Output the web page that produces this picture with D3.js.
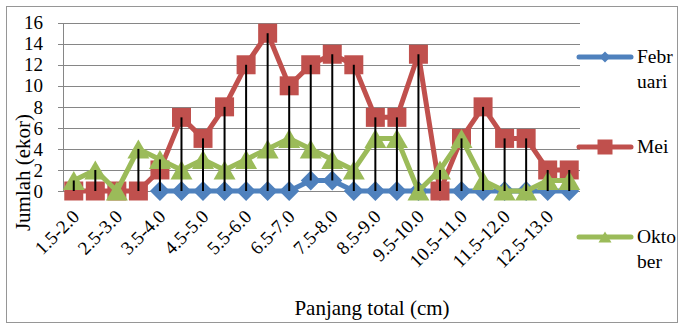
<!DOCTYPE html>
<html><head><meta charset="utf-8"><script src="https://cdn.jsdelivr.net/npm/d3@7"></script></head>
<body style="margin:0">
<svg id="chart" width="678" height="324"></svg>
<script>
// ---- data ----
const categories = ["1.5-2.0","2.0-2.5","2.5-3.0","3.0-3.5","3.5-4.0","4.0-4.5","4.5-5.0","5.0-5.5",
  "5.5-6.0","6.0-6.5","6.5-7.0","7.0-7.5","7.5-8.0","8.0-8.5","8.5-9.0","9.0-9.5","9.5-10.0",
  "10.0-10.5","10.5-11.0","11.0-11.5","11.5-12.0","12.0-12.5","12.5-13.0","13.0-13.5"];
const februari = [null,null,null,null,0,0,0,0,0,0,0,1,1,0,0,0,0,0,0,0,0,0,0,0];
const mei      = [0,0,0,0,2,7,5,8,12,15,10,12,13,12,7,7,13,0,5,8,5,5,2,2];
const oktober  = [1,2,0,4,3,2,3,2,3,4,5,4,3,2,5,5,0,2,5,1,0,0,1,1];
const yTicks = [0,2,4,6,8,10,12,14,16];
const seriesNames = [["Febr","uari"],["Mei"],["Okto","ber"]];

const FONT = "Liberation Serif";
const svg = d3.select("#chart");
const W = 678, H = 324;
const plot = {left: 63, right: 580, top: 22.7, bottom: 191};

svg.append("rect").attr("x",0).attr("y",0).attr("width",W).attr("height",H).attr("fill","#fff");
svg.append("rect").attr("x",6.5).attr("y",6.5).attr("width",671).attr("height",316)
  .attr("fill","none").attr("stroke","#969696").attr("stroke-width",1);

const x = d3.scalePoint().domain(categories).range([plot.left, plot.right]).padding(0.5);
const y = d3.scaleLinear().domain([0,16]).range([plot.bottom, plot.top]);

svg.append("g").selectAll("line").data(yTicks).join("line")
  .attr("x1", plot.left - 5).attr("x2", plot.right)
  .attr("y1", d => Math.round(y(d)) + 0.5).attr("y2", d => Math.round(y(d)) + 0.5)
  .attr("stroke","#868686").attr("stroke-width",1);
svg.append("line").attr("x1", plot.left+0.5).attr("x2", plot.left+0.5)
  .attr("y1", Math.round(y(16))+0.5).attr("y2", Math.round(y(0))+0.5)
  .attr("stroke","#868686").attr("stroke-width",1);

function txt(sel, size) {
  return sel.style("font-family", `"${FONT}"`).attr("font-size", size + "px").attr("fill", "#000");
}

txt(svg.append("g").selectAll("text").data(yTicks).join("text"), 19)
  .attr("x", 43).attr("y", d => y(d)).attr("dy","0.35em")
  .attr("text-anchor","end").text(d => d);

txt(svg.append("g").selectAll("text").data(categories.filter((c,i) => i % 2 === 0)).join("text"), 19)
  .attr("transform", d => `translate(${x(d)+2},${plot.bottom+22}) rotate(-45)`)
  .attr("dy","0.35em").attr("text-anchor","end").text(d => d);

txt(svg.append("text"), 21).attr("x", 372).attr("y", 315).attr("text-anchor","middle")
  .text("Panjang total (cm)");
txt(svg.append("text"), 21).attr("transform","translate(30,172.5) rotate(-90)")
  .attr("text-anchor","middle").text("Jumlah (ekor)");

const colors = ["#4F81BD","#C0504D","#9BBB59"];
const allSeries = [februari, mei, oktober];

const sym = {
  diamond: s => `M0,${-s/2}L${s/2},0L0,${s/2}L${-s/2},0Z`,
  square: s => `M${-s/2},${-s/2}h${s}v${s}h${-s}Z`,
  triangle: (w,h) => `M0,${-h/2}L${w/2},${h/2}L${-w/2},${h/2}Z`
};
const markerPaths = [sym.diamond(20), sym.square(19), sym.triangle(22,19)];
const legendMarkers = [sym.diamond(11), sym.square(15), sym.triangle(13,11)];

const line = d3.line().defined(d => d.v !== null).x(d => x(d.c)).y(d => y(d.v));

allSeries.forEach((vals, si) => {
  const pts = vals.map((v,i) => ({c: categories[i], v}));
  const g = svg.append("g");
  g.append("path").datum(pts).attr("d", line).attr("fill","none")
    .attr("stroke", colors[si]).attr("stroke-width",5).attr("stroke-linejoin","round");
  g.selectAll("path.m").data(pts.filter(d => d.v !== null)).join("path").attr("class","m")
    .attr("d", markerPaths[si]).attr("transform", d => `translate(${x(d.c)},${y(d.v)})`)
    .attr("fill", colors[si]);
});

const hl = categories.map((c,i) => {
  const vs = allSeries.map(s => s[i]).filter(v => v !== null);
  return {c, lo: d3.min(vs), hi: d3.max(vs)};
});
svg.append("g").selectAll("line").data(hl).join("line")
  .attr("x1", d => x(d.c)).attr("x2", d => x(d.c))
  .attr("y1", d => y(d.hi)).attr("y2", d => y(d.lo))
  .attr("stroke","#000").attr("stroke-width",2);

const legY = [57, 147, 237];
seriesNames.forEach((lines, si) => {
  const g = svg.append("g");
  g.append("line").attr("x1",579).attr("x2",631).attr("y1",legY[si]).attr("y2",legY[si])
    .attr("stroke",colors[si]).attr("stroke-width",5).attr("stroke-linecap","round");
  g.append("path").attr("d", legendMarkers[si]).attr("transform",`translate(605,${legY[si]})`)
    .attr("fill",colors[si]);
  lines.forEach((l,k) => {
    txt(g.append("text"), 19.5).attr("x",637).attr("y",legY[si] + 6 + k*25).text(l);
  });
});
</script>
</body>
</html>
